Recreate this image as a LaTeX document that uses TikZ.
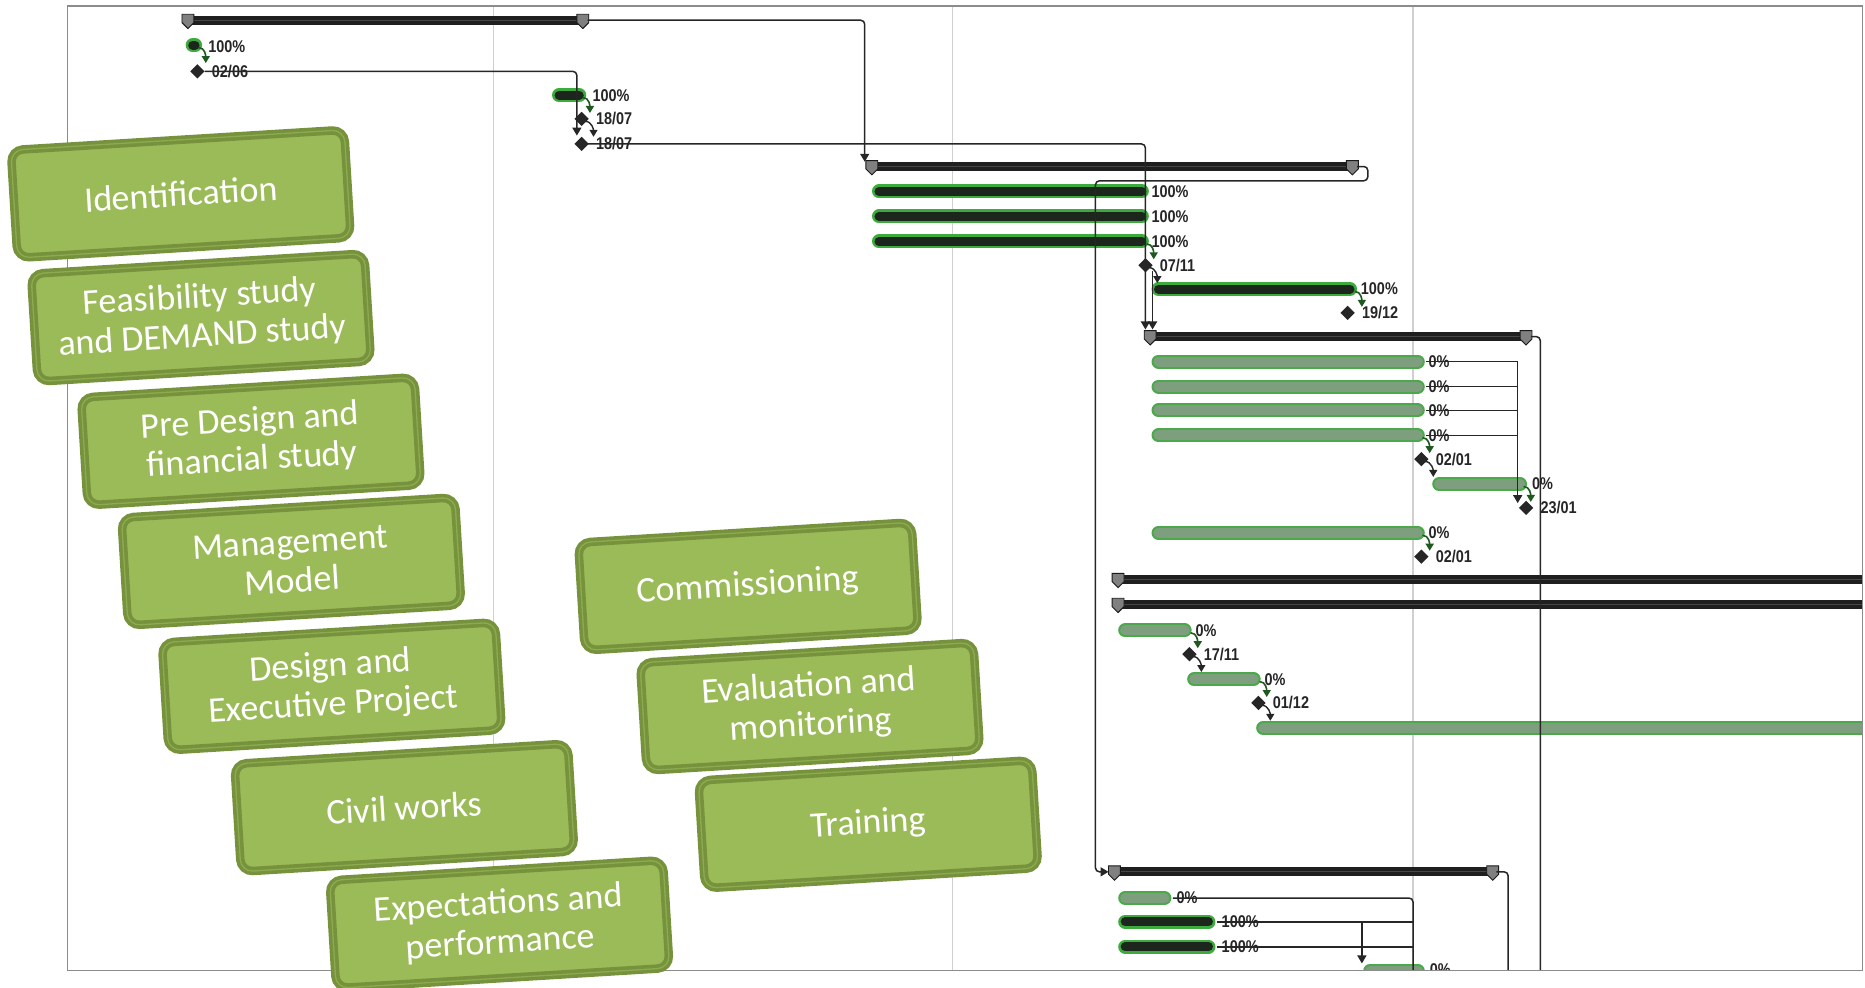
\documentclass[tikz,border=0pt]{standalone}
\usepackage{fontspec}
\setmainfont{Carlito}
\newfontfamily\gfont[FakeStretch=0.85]{Liberation Sans}
\usetikzlibrary{arrows.meta}
\definecolor{cBoxFill}{HTML}{9BBB59}
\definecolor{cBoxLine}{HTML}{76923C}
\definecolor{cBoxInner}{HTML}{8DAB4E}
\definecolor{cFrame}{HTML}{8C8C8C}
\definecolor{cGrid}{HTML}{D0D0D0}
\definecolor{cDoneCore}{HTML}{1C261C}
\definecolor{cDoneHalo}{HTML}{3DAA3D}
\definecolor{cOpenCore}{HTML}{7E9F7E}
\definecolor{cOpenHalo}{HTML}{4BA84B}
\definecolor{cArrowGreen}{HTML}{1E5A1E}

\newcommand{\gsum}[3]{%
  \draw[sumbar] (#1,#3) -- (#2,#3);
  \draw[suminner] (#1,#3) -- (#2,#3);
  \pic at (#1+3,#3) {sumend};
  \pic at (#2,#3) {sumend};}
\newcommand{\gbar}[4]{%
  \draw[#1halo] (#2+6,#4) -- (#3-6,#4);
  \draw[#1core] (#2+6,#4) -- (#3-6,#4);}
\newcommand{\gmile}[3]{%
  \fill[black!85] (#1-6,#2) -- (#1,#2-6) -- (#1+6,#2) -- (#1,#2+6) -- cycle;
  \node[glabel] (ms-#1-#2) at (#1+12,#2) {#3};}
\newcommand{\glab}[3]{\node[glabel] (lb-#1-#2) at (#1,#2) {#3};}
\newcommand{\garr}[2]{\draw[greenarr] (#1,#2) to[out=0,in=90] (#1+6,#2+13);}
\newcommand{\barr}[2]{\draw[blackarr] (#1,#2) to[out=0,in=90] (#1+7,#2+13);}

\tikzset{
  sumend/.pic={\filldraw[fill=black!50, draw=black!90, line width=0.9pt]
     (-5,-5) -- (5,-5) -- (5,2) -- (0,7) -- (-5,2) -- cycle;},
}

\begin{document}
\begin{tikzpicture}[x=1.18941pt,y=-1.18941pt,
  sumbar/.style={draw=black!88, line width=9pt},
  suminner/.style={draw=black!72, line width=1.2pt},
  donehalo/.style={draw=cDoneHalo, line width=14pt, line cap=round},
  donecore/.style={draw=cDoneCore, line width=9pt, line cap=round},
  openhalo/.style={draw=cOpenHalo, line width=14pt, line cap=round},
  opencore/.style={draw=cOpenCore, line width=10pt, line cap=round},
  glabel/.style={anchor=west, inner sep=0pt, text=black!85,
     font=\gfont\bfseries\fontsize{17}{17}\selectfont},
  conn/.style={draw=black!85, line width=1.5pt, rounded corners=4pt},
  tip/.style={-{Triangle[length=8pt,width=9pt]}},
  greenarr/.style={draw=cArrowGreen, line width=1.6pt, -{Triangle[length=7pt,width=8pt]}},
  blackarr/.style={draw=black!85, line width=1.4pt, -{Triangle[length=7pt,width=8pt]}},
  phase/.style={draw=cBoxLine, double=cBoxInner, double distance=1.3pt,
     line width=3.6pt, fill=cBoxFill, rounded corners=12pt, rotate=3.5,
     minimum width=334pt, minimum height=108pt, text=white, align=center,
     font=\fontsize{36}{39}\selectfont, inner sep=4pt}
]
\useasboundingbox (0,0) rectangle (1568,830);
\fill[white] (0,0) rectangle (1568,830);

\begin{scope}
\clip (57,5) rectangle (1566,816);
% grid lines
\foreach \gx in {415,801,1188} \draw[cGrid, line width=1.2pt] (\gx,5) -- (\gx,816);

% summary bars
\gsum{155}{490}{17}
\gsum{730}{1137}{140}
\gsum{964}{1283}{283}
\gsum{937}{1600}{487}
\gsum{937}{1600}{508}
\gsum{934}{1255}{733}

% completed tasks
\gbar{done}{156}{170}{38}
\gbar{done}{464}{493}{80}
\foreach \ty in {161,182,203} {\gbar{done}{733}{966}{\ty}}
\gbar{done}{968}{1141}{243}
\gbar{done}{940}{1022}{775}
\gbar{done}{940}{1022}{796}

% open tasks
\foreach \ty in {304,325,345,366,448} {\gbar{open}{968}{1198}{\ty}}
\gbar{open}{1204}{1284}{407}
\gbar{open}{940}{1002}{530}
\gbar{open}{998}{1060}{571}
\gbar{open}{1056}{1600}{612}
\gbar{open}{940}{985}{755}
\gbar{open}{1146}{1198}{816}

% task labels
\glab{175}{39}{100\%}
\glab{498}{80}{100\%}
\glab{968}{161}{100\%}
\glab{968}{182}{100\%}
\glab{968}{203}{100\%}
\glab{1144}{243}{100\%}
\glab{1027}{775}{100\%}
\glab{1027}{796}{100\%}
\glab{1201}{304}{0\%}
\glab{1201}{325}{0\%}
\glab{1201}{345}{0\%}
\glab{1201}{366}{0\%}
\glab{1288}{407}{0\%}
\glab{1201}{448}{0\%}
\glab{1005}{530}{0\%}
\glab{1063}{571}{0\%}
\glab{989}{755}{0\%}
\glab{1202}{815}{0\%}

% milestones
\gmile{166}{60}{02/06}
\gmile{489}{100}{18/07}
\gmile{489}{121}{18/07}
\gmile{963}{223}{07/11}
\gmile{1133}{263}{19/12}
\gmile{1195}{386}{02/01}
\gmile{1283}{427}{23/01}
\gmile{1195}{468}{02/01}
\gmile{1000}{550}{17/11}
\gmile{1058}{591}{01/12}

% small arrows task -> milestone
\garr{167}{40}
\garr{490}{82}
\garr{964}{205}
\garr{1139}{245}
\garr{1196}{368}
\garr{1281}{409}
\garr{1196}{450}
\garr{1001}{532}
\garr{1059}{573}
% milestone -> next task
\barr{492}{102}
\barr{966}{225}
\barr{1198}{388}
\barr{1003}{552}
\barr{1061}{593}

% connectors
\coordinate (s1end) at (494,17);
\coordinate (s2start) at (727,136);
\draw[conn,tip] (s1end) -- (727,17) -- (s2start);
\coordinate (m1) at (172,60);
\coordinate (m2in) at (485,114);
\draw[conn,tip] (m1) -- (485,60) -- (m2in);
\coordinate (m3) at (494,121);
\coordinate (s3in) at (963,277);
\draw[conn,tip] (m3) -- (963,121) -- (s3in);
\coordinate (m711) at (969,228);
\coordinate (s3inb) at (969,277);
\draw[conn,tip] (m711) -- (s3inb);
\coordinate (s2end) at (1141,140);
\coordinate (s6in) at (932,733);
\draw[conn,tip] (s2end) -- (1150,140) -- (1150,152) -- (921,152) -- (921,733) -- (s6in);
\coordinate (s3end) at (1287,283);
\coordinate (bot1) at (1295,830);
\draw[conn] (s3end) -- (1295,283) -- (bot1);
\foreach \ty in {304,325,345,366} \draw[conn] (1199,\ty) -- (1276,\ty);
\coordinate (v1top) at (1276,304);
\coordinate (m2301) at (1276,423);
\draw[conn,tip] (v1top) -- (m2301);
\coordinate (s6end) at (1258,733);
\coordinate (bot2) at (1268,830);
\draw[conn] (s6end) -- (1268,733) -- (bot2);
\coordinate (t755) at (986,755);
\coordinate (bot3) at (1188,830);
\draw[conn] (t755) -- (1188,755) -- (bot3);
\draw[conn] (1023,775) -- (1188,775);
\draw[conn] (1023,796) -- (1188,796);
\coordinate (v2top) at (1145,775);
\coordinate (t815) at (1145,810);
\draw[conn,tip] (v2top) -- (t815);
\end{scope}

% frame
\draw[cFrame, line width=1.3pt] (57,5) rectangle (1566,816);

% phase boxes
\node[phase] (ident)  at (152,163) {Identification};
\node[phase] (feas)   at (169,267) {Feasibility study\\and DEMAND study};
\node[phase] (pre)    at (211,371) {Pre Design and\\financial study};
\node[phase] (mgmt)   at (245,472) {Management\\Model};
\node[phase] (design) at (279,577) {Design and\\Executive Project};
\node[phase] (civil)  at (340,679) {Civil works};
\node[phase] (expect) at (420,777) {Expectations and\\performance};
\node[phase] (comm)   at (629,493) {Commissioning};
\node[phase] (eval)   at (681,594) {Evaluation and\\monitoring};
\node[phase] (train)  at (730,693) {Training};
\end{tikzpicture}
\end{document}
